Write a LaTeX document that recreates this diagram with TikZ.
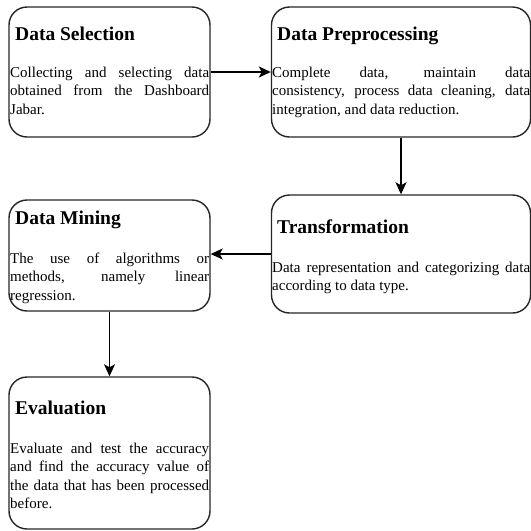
\documentclass[tikz,border=0pt]{standalone}
\usepackage{fontspec}
\setmainfont{Liberation Serif}
\usetikzlibrary{arrows.meta}
\hbadness=10000
\hyphenpenalty=10000
\exhyphenpenalty=10000
\tikzset{
  x=1pt, y=-1pt,
  box/.style={draw=black!85, line width=1.4pt, rounded corners=18pt, rectangle, inner sep=0pt},
  head/.style={anchor=base west, inner sep=0pt, font=\fontsize{19.5}{22}\selectfont\bfseries},
  body/.style={anchor=base west, inner sep=0pt, align=justify,
    font=\fontsize{15}{18.5}\selectfont},
  arr/.style={draw=black, line width=1.5pt, -{Stealth[length=12pt,width=11pt,inset=3pt]}}
}
\begin{document}
\begin{tikzpicture}
\useasboundingbox (0,0) rectangle (531,531);
% boxes
\node[box, minimum width=201pt, minimum height=130pt] (sel) at (109.5,72) {};
\node[box, minimum width=259pt, minimum height=130pt] (pre) at (401,72) {};
\node[box, minimum width=259pt, minimum height=118pt] (trans) at (401,254) {};
\node[box, minimum width=201pt, minimum height=111pt] (mining) at (109.5,255.5) {};
\node[box, minimum width=201pt, minimum height=152pt] (eval) at (109.5,453) {};
% texts
\node[head] (selh) at (15,40) {Data Selection};
\node[body, text width=199pt] (selt) at (10,77) {\hyphenpenalty=10000\relax Collecting and selecting data\linebreak obtained from the Dashboard\linebreak Jabar.};
\node[head] (preh) at (277,40) {Data Preprocessing};
\node[body, text width=258pt] (pret) at (272,77) {\hyphenpenalty=10000\relax Complete data, maintain data\linebreak consistency, process data cleaning, data\linebreak integration, and data reduction.};
\node[head] (transh) at (277,233) {Transformation};
\node[body, text width=258pt] (transt) at (272,272) {\hyphenpenalty=10000\relax Data representation and categorizing data\linebreak according to data type.};
\node[head] (miningh) at (15,224) {Data Mining};
\node[body, text width=199pt] (miningt) at (10,263) {\hyphenpenalty=10000\relax The use of algorithms or\linebreak methods, namely linear\linebreak regression.};
\node[head] (evalh) at (15,414) {Evaluation};
\node[body, text width=199pt] (evalt) at (10,453) {\hyphenpenalty=10000\relax Evaluate and test the accuracy\linebreak and find the accuracy value of\linebreak the data that has been processed\linebreak before.};
% arrows
\draw[arr] (sel) -- (pre);
\draw[arr] (pre) -- (trans);
\draw[arr] (trans.west) -- (mining.east |- trans.west);
\draw[arr] (mining) -- (eval);
\end{tikzpicture}
\end{document}
